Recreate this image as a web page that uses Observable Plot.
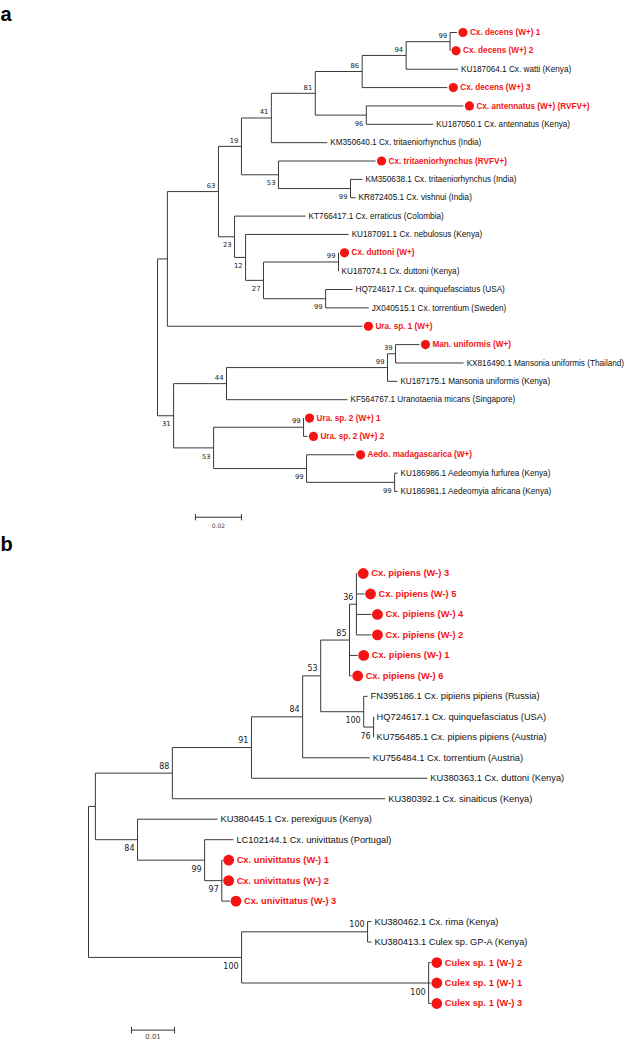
<!DOCTYPE html>
<html>
<head>
<meta charset="utf-8">
<script src="https://cdn.jsdelivr.net/npm/d3@7"></script>
<script src="https://cdn.jsdelivr.net/npm/@observablehq/plot@0.6"></script>
<style>
  html, body { margin: 0; padding: 0; background: #fff; }
  #chart { width: 625px; }
  #chart svg { display: block; }
</style>
</head>
<body>
<div id="chart"></div>
<script>
// ---------- Panel a: taxa (leaf index -> label) ----------
const namesA = [
  "Cx. decens (W+) 1",
  "Cx. decens (W+) 2",
  "KU187064.1 Cx. watti (Kenya)",
  "Cx. decens (W+) 3",
  "Cx. antennatus (W+) (RVFV+)",
  "KU187050.1 Cx. antennatus (Kenya)",
  "KM350640.1 Cx. tritaeniorhynchus (India)",
  "Cx. tritaeniorhynchus (RVFV+)",
  "KM350638.1 Cx. tritaeniorhynchus (India)",
  "KR872405.1 Cx. vishnui (India)",
  "KT766417.1 Cx. erraticus (Colombia)",
  "KU187091.1 Cx. nebulosus (Kenya)",
  "Cx. duttoni (W+)",
  "KU187074.1 Cx. duttoni (Kenya)",
  "HQ724617.1 Cx. quinquefasciatus (USA)",
  "JX040515.1 Cx. torrentium (Sweden)",
  "Ura. sp. 1 (W+)",
  "Man. uniformis (W+)",
  "KX816490.1 Mansonia uniformis (Thailand)",
  "KU187175.1 Mansonia uniformis (Kenya)",
  "KF564767.1 Uranotaenia micans (Singapore)",
  "Ura. sp. 2 (W+) 1",
  "Ura. sp. 2 (W+) 2",
  "Aedo. madagascarica (W+)",
  "KU186986.1 Aedeomyia furfurea (Kenya)",
  "KU186981.1 Aedeomyia africana (Kenya)"
];
// Newick: leaves are indices into namesA, internal labels = bootstrap, lengths = substitutions/site
const newickA = "(((((((((0:0.003,1:0)99:0.0191,2:0.0226)94:0.0191,3:0.037)86:0.0204,(4:0.0422,5:0.0291)96:0.0222)81:0.0191,6:0.0243)41:0.013,(7:0.0422,(8:0.0052,9:0.0022)99:0.0313)53:0.0161)19:0.01,(10:0.0309,(11:0.0448,((12:0,13:0)99:0.0326,(14:0.0117,15:0.0187)99:0.027)27:0.0078)12:0.0048)23:0.007)63:0.0222,16:0.0848):0.0043,((((17:0.0104,18:0.0296)39:0.0035,19:0.0043)99:0.07,20:0.0526)44:0.023,((21:0,22:0.0017)99:0.0391,(23:0.0209,(24:0.0013,25:0.0013)99:0.0383)99:0.0404)53:0.0174)31:0.007);";
const scaleA = 0.02;

// ---------- Panel b ----------
const namesB = [
  "Cx. pipiens (W-) 3",
  "Cx. pipiens (W-) 5",
  "Cx. pipiens (W-) 4",
  "Cx. pipiens (W-) 2",
  "Cx. pipiens (W-) 1",
  "Cx. pipiens (W-) 6",
  "FN395186.1 Cx. pipiens pipiens (Russia)",
  "HQ724617.1 Cx. quinquefasciatus (USA)",
  "KU756485.1 Cx. pipiens pipiens (Austria)",
  "KU756484.1 Cx. torrentium (Austria)",
  "KU380363.1 Cx. duttoni (Kenya)",
  "KU380392.1 Cx. sinaiticus (Kenya)",
  "KU380445.1 Cx. perexiguus (Kenya)",
  "LC102144.1 Cx. univittatus (Portugal)",
  "Cx. univittatus (W-) 1",
  "Cx. univittatus (W-) 2",
  "Cx. univittatus (W-) 3",
  "KU380462.1 Cx. rima (Kenya)",
  "KU380413.1 Culex sp. GP-A (Kenya)",
  "Culex sp. 1 (W-) 2",
  "Culex sp. 1 (W-) 1",
  "Culex sp. 1 (W-) 3"
];
const newickB = "((((((((0:0.0002,1:0.0019,2:0.0035,3:0.0035)36:0.0016,4:0.0019,5:0.0005)85:0.0067,(6:0.0009,(7:0,8:0)76:0.0023)100:0.01)53:0.0042,9:0.0156)84:0.0119,10:0.0409)91:0.0184,11:0.0495)88:0.0179,(12:0.0186,(13:0.0067,(14:0.0002,15:0.0002,16:0.0019)97:0.004)99:0.0156)84:0.0098):0.0016,((17:0.0009,18:0.0009)100:0.0293,(19:0.0005,20:0.0005,21:0.0005)100:0.0435)100:0.0356);";
const scaleB = 0.01;

// ---------- helpers ----------
function parseNewick(s) {
  let i = 0;
  function node() {
    const n = {children: []};
    if (s[i] === "(") {
      i++;
      n.children.push(node());
      while (s[i] === ",") { i++; n.children.push(node()); }
      i++; // ')'
    }
    let name = "";
    while (i < s.length && !":,);".includes(s[i])) name += s[i++];
    n.name = name;
    n.length = 0;
    if (s[i] === ":") {
      i++;
      let num = "";
      while (i < s.length && !",);".includes(s[i])) num += s[i++];
      n.length = +num;
    }
    return n;
  }
  return node();
}

function layoutTree(root, names) {
  const nodes = [], leaves = [];
  let k = 0;
  (function walk(n, px, parent, order) {
    n.x = parent ? px + n.length : 0;
    n.parent = parent;
    n.order = order;
    nodes.push(n);
    if (n.children.length) {
      n.children.forEach((c, j) => walk(c, n.x, n, j));
      n.y = (n.children[0].y + n.children[n.children.length - 1].y) / 2;
    } else {
      n.y = k++;
      n.label = names[+n.name];
      n.field = !/^[A-Z]{2}\d/.test(n.label);
      leaves.push(n);
    }
  })(root, 0, null, 0);
  return {nodes, leaves};
}

function drawTree(o) {
  const {nodes, leaves} = layoutTree(parseNewick(o.newick), o.names);
  const hSegs = nodes.filter(n => n.parent).map(n => ({x1: n.parent.x, x2: n.x, y: n.y}));
  const vSegs = nodes.filter(n => n.children.length).map(n => ({
    x: n.x, y1: n.children[0].y, y2: n.children[n.children.length - 1].y
  }));
  const support = nodes.filter(n => n.children.length && n.name !== "");
  const above = support.filter(n => n.order === 0);
  const below = support.filter(n => n.order !== 0);
  const red = leaves.filter(n => n.field);
  const black = leaves.filter(n => !n.field);
  const lineColor = "#3a3a3a";
  const redColor = "#f41414";
  const bar = [{x1: o.bar.x, x2: o.bar.x + o.bar.len, y: o.bar.y}];
  const leafFont = "Liberation Sans, Arial, sans-serif";
  const numFont = "DejaVu Sans, Verdana, sans-serif";

  return Plot.plot({
    width: 625,
    height: o.height,
    margin: 0,
    style: {background: "#fff", overflow: "visible"},
    x: {axis: null, domain: o.xDomain, range: o.xRange},
    y: {axis: null, domain: [0, leaves.length - 1], range: o.yRange},
    marks: [
      Plot.link(hSegs, {x1: "x1", x2: "x2", y1: "y", y2: "y", stroke: lineColor, strokeWidth: 1}),
      Plot.link(vSegs, {x1: "x", x2: "x", y1: "y1", y2: "y2", stroke: lineColor, strokeWidth: 1}),
      Plot.dot(red, {x: "x", y: "y", dx: 6, r: o.dotR, fill: redColor, stroke: "none"}),
      Plot.text(red, {x: "x", y: "y", text: "label", dx: o.redDx, textAnchor: "start", fill: redColor,
        fontWeight: "bold", fontSize: o.labelSize, fontFamily: leafFont}),
      Plot.text(black, {x: "x", y: "y", text: "label", dx: o.blackDx, textAnchor: "start", fill: "#111",
        fontSize: o.labelSize, fontFamily: leafFont}),
      Plot.text(above, {x: "x", y: "y", text: "name", dx: -3, dy: o.numAbove, textAnchor: "end",
        fill: "#222", fontSize: o.numSize, fontFamily: numFont}),
      Plot.text(below, {x: "x", y: "y", text: "name", dx: -3, dy: o.numBelow, textAnchor: "end",
        fill: "#222", fontSize: o.numSize, fontFamily: numFont}),
      // scale bar
      Plot.link(bar, {x1: "x1", x2: "x2", y1: "y", y2: "y", stroke: "#333", strokeWidth: 1}),
      Plot.link(bar, {x1: "x1", x2: "x1", y1: d => d.y - o.bar.tick, y2: d => d.y + o.bar.tick, stroke: "#333"}),
      Plot.link(bar, {x1: "x2", x2: "x2", y1: d => d.y - o.bar.tick, y2: d => d.y + o.bar.tick, stroke: "#333"}),
      Plot.text(bar, {x: d => (d.x1 + d.x2) / 2, y: "y", text: () => o.bar.text, dy: o.bar.dy,
        fill: "#444", fontSize: o.bar.size, fontFamily: numFont}),
      // panel letter
      Plot.text([o.letter], {frameAnchor: "top-left", text: d => d, dx: 0, dy: o.letterDy,
        textAnchor: "start", lineAnchor: "bottom", fontWeight: "bold", fontSize: 20,
        fontFamily: "Liberation Sans, Arial, sans-serif", fill: "#000"})
    ]
  });
}

const chart = document.getElementById("chart");
chart.appendChild(drawTree({
  names: namesA, newick: newickA, height: 530,
  xDomain: [0, 0.2], xRange: [157, 617], yRange: [32, 491],
  labelSize: 8.2, numSize: 6.8, dotR: 4.6, redDx: 13, blackDx: 3,
  numAbove: -6, numBelow: 8.5,
  bar: {x: 0.0165, len: scaleA, y: 26.4, tick: 0.17, text: String(scaleA), dy: 9, size: 6},
  letter: "a", letterDy: 20
}));
chart.appendChild(drawTree({
  names: namesB, newick: newickB, height: 512,
  xDomain: [0, 0.1], xRange: [88, 518], yRange: [43, 473],
  labelSize: 9.3, numSize: 8, dotR: 5.4, redDx: 14, blackDx: 3,
  numAbove: -7, numBelow: 9,
  bar: {x: 0.01, len: scaleB, y: 22.3, tick: 0.16, text: String(scaleB), dy: 7, size: 7},
  letter: "b", letterDy: 20
}));
</script>
</body>
</html>
